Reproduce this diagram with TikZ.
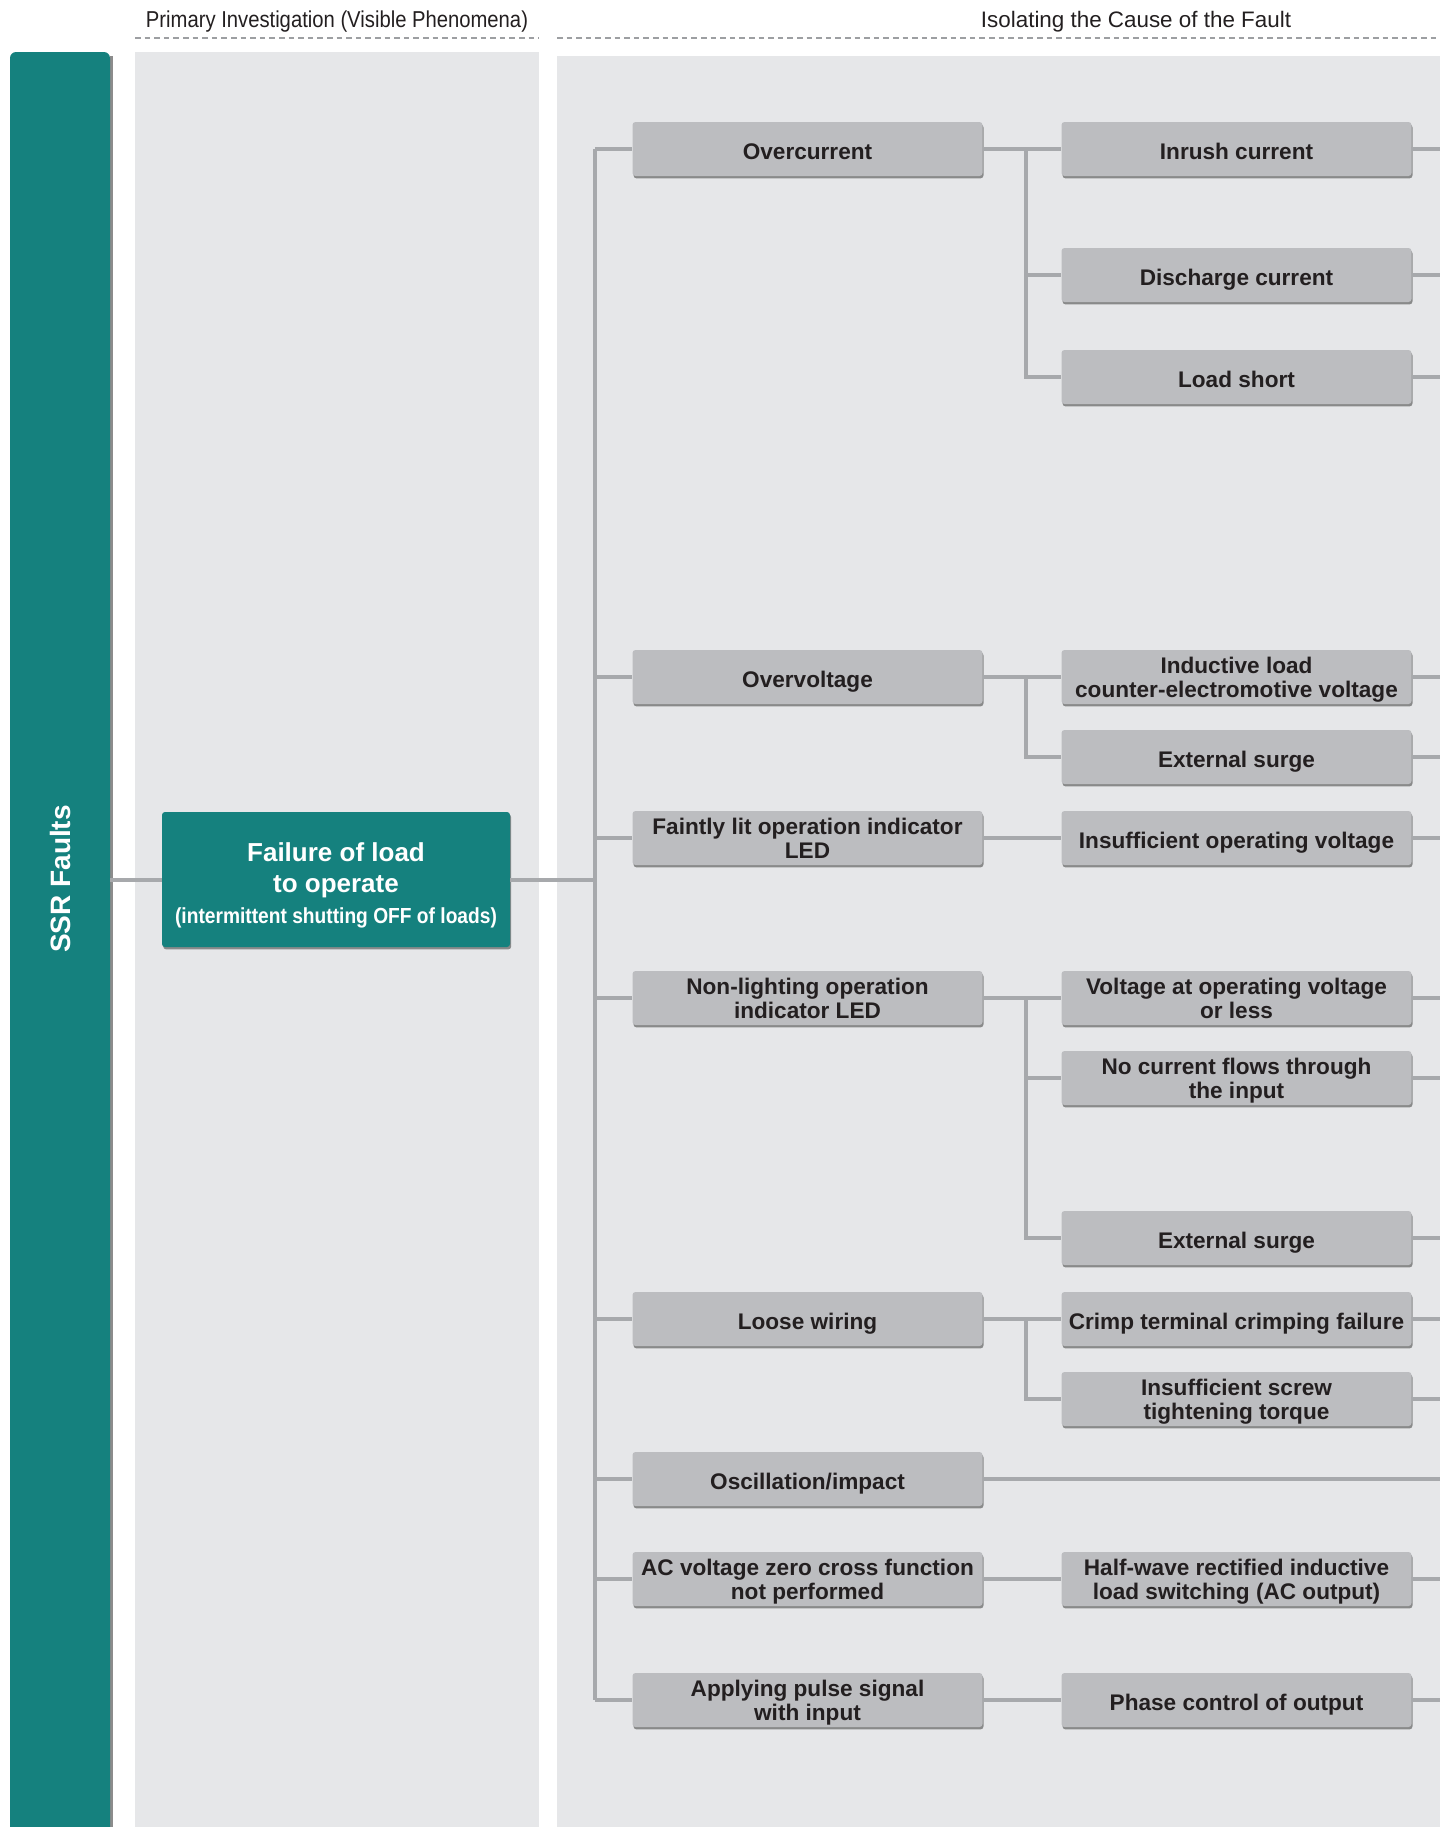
\documentclass[tikz,border=0pt]{standalone}
\usepackage{fontspec}
\setmainfont{Liberation Sans}
\newfontfamily\narrowfont{Liberation Sans}[FakeStretch=0.88]
\usepackage{tikz}
\usetikzlibrary{positioning, calc, shadows}
\definecolor{ssrteal}{RGB}{21, 129, 126}
\definecolor{panelgray}{RGB}{230, 231, 233}
\definecolor{boxgray}{RGB}{188, 189, 192}
\definecolor{linegray}{RGB}{167, 169, 172}
\definecolor{dashgray}{RGB}{157, 159, 162}
\definecolor{darktext}{RGB}{35, 31, 32}

\tikzset{
  causebox/.style={fill=boxgray, rounded corners=1.5pt, minimum width=175pt, minimum height=27pt,
                   inner xsep=2pt, inner ysep=1pt, align=center, text=darktext, text depth=0pt,
                   font=\fontsize{11.3}{12.2}\selectfont\bfseries,
                   execute at begin node={\rule{0pt}{10.5pt}},
                   drop shadow={shadow xshift=0.5pt, shadow yshift=-1.2pt, fill=black!70, opacity=0.6}},
  mainbox/.style={fill=ssrteal, rounded corners=1.5pt, minimum width=174pt, minimum height=67.5pt,
                  inner sep=2pt,
                  drop shadow={shadow xshift=0.6pt, shadow yshift=-1.2pt, fill=black!70, opacity=0.6}},
  maintext/.style={align=center, text=white, inner sep=0pt, font=\fontsize{13}{15.5}\selectfont\bfseries},
  conn/.style={draw=linegray, line width=2pt},
  headline/.style={draw=dashgray, line width=1.1pt, dash pattern=on 2.8pt off 2pt},
  headtext/.style={text=darktext, font=\narrowfont\fontsize{11.5}{13}\selectfont}
}

\begin{document}
\begin{tikzpicture}[x=0.5pt, y=-0.5pt]
  \useasboundingbox (0,0) rectangle (1440,1827);
  \fill[white] (0,0) rectangle (1440,1827);

  % column headers
  \node[headtext] (headA) at (337,22) {Primary Investigation (Visible Phenomena)};
  \node[headtext, font=\fontsize{11.2}{13}\selectfont] (headB) at (1136,22) {Isolating the Cause of the Fault};
  \draw[headline] (135,38) -- (539,38);
  \draw[headline] (557,38) -- (1440,38);

  % panels
  \fill[panelgray] (135,52) rectangle (539,1827);
  \fill[panelgray] (557,56) rectangle (1440,1827);
  \fill[black!45] (110,56) rectangle (113,1827);
  \fill[ssrteal, rounded corners=3pt] (10,1840) -- (10,52) -- (110,52) -- (110,1840) -- cycle;
  \node[rotate=90, text=white, font=\fontsize{14}{16}\selectfont\bfseries] (title) at (60,879) {SSR Faults};
  \coordinate (barR) at (110,0);
  \coordinate (trunk) at (595,0);
  \coordinate (branch) at (1026,0);
  \coordinate (edge) at (1440,0);

  % primary phenomenon
  \node[mainbox] (fail) at (336,879.5) {};
  \node[maintext] (failtext) at ([yshift=-3pt]fail.center) {Failure of load\\to operate\\
    {\narrowfont\fontsize{10.9}{13}\selectfont (intermittent shutting OFF of loads)}};

  % first level
  \node[causebox] (over)  at (807.5,149)  {Overcurrent};
  \node[causebox] (volt)  at (807.5,677)  {Overvoltage};
  \node[causebox] (faint) at (807.5,838)  {Faintly lit operation indicator\\LED};
  \node[causebox] (nolit) at (807.5,998)  {Non-lighting operation\\indicator LED};
  \node[causebox] (loose) at (807.5,1319) {Loose wiring};
  \node[causebox] (osc)   at (807.5,1479) {Oscillation/impact};
  \node[causebox] (zero)  at (807.5,1579) {AC voltage zero cross function\\not performed};
  \node[causebox] (pulse) at (807.5,1700) {Applying pulse signal\\with input};

  % second level
  \node[causebox] (inrush) at (1236.5,149)  {Inrush current};
  \node[causebox] (disch)  at (1236.5,275)  {Discharge current};
  \node[causebox] (short)  at (1236.5,377)  {Load short};
  \node[causebox] (induct) at (1236.5,677)  {Inductive load\\counter-electromotive voltage};
  \node[causebox] (surgeA) at (1236.5,757)  {External surge};
  \node[causebox] (lowop)  at (1236.5,838)  {Insufficient operating voltage};
  \node[causebox] (vless)  at (1236.5,998)  {Voltage at operating voltage\\or less};
  \node[causebox] (nocur)  at (1236.5,1078) {No current flows through\\the input};
  \node[causebox] (surgeB) at (1236.5,1238) {External surge};
  \node[causebox] (crimp)  at (1236.5,1319) {Crimp terminal crimping failure};
  \node[causebox] (screw)  at (1236.5,1399) {Insufficient screw\\tightening torque};
  \node[causebox] (halfw)  at (1236.5,1579) {Half-wave rectified inductive\\load switching (AC output)};
  \node[causebox] (phase)  at (1236.5,1700) {Phase control of output};

  % connectors
  \draw[conn] (barR |- fail.west) -- (fail.west);
  \draw[conn] (fail.east) -- (fail.east -| trunk);
  \draw[conn] (trunk |- over.west) -- (trunk |- pulse.west);
  \foreach \n in {over, volt, faint, nolit, loose, osc, zero, pulse}
    \draw[conn] (trunk |- \n.west) -- (\n.west);

  \draw[conn] (over.east) -- (inrush.west);
  \draw[conn] (branch |- over.east) |- (disch.west);
  \draw[conn] (branch |- over.east) |- (short.west);
  \draw[conn] (volt.east) -- (induct.west);
  \draw[conn] (branch |- volt.east) |- (surgeA.west);
  \draw[conn] (faint.east) -- (lowop.west);
  \draw[conn] (nolit.east) -- (vless.west);
  \draw[conn] (branch |- nolit.east) |- (nocur.west);
  \draw[conn] (branch |- nolit.east) |- (surgeB.west);
  \draw[conn] (loose.east) -- (crimp.west);
  \draw[conn] (branch |- loose.east) |- (screw.west);
  \draw[conn] (zero.east) -- (halfw.west);
  \draw[conn] (pulse.east) -- (phase.west);

  \foreach \n in {inrush, disch, short, induct, surgeA, lowop, vless, nocur, surgeB, crimp, screw, osc, halfw, phase}
    \draw[conn] (\n.east) -- (\n.east -| edge);
\end{tikzpicture}
\end{document}
